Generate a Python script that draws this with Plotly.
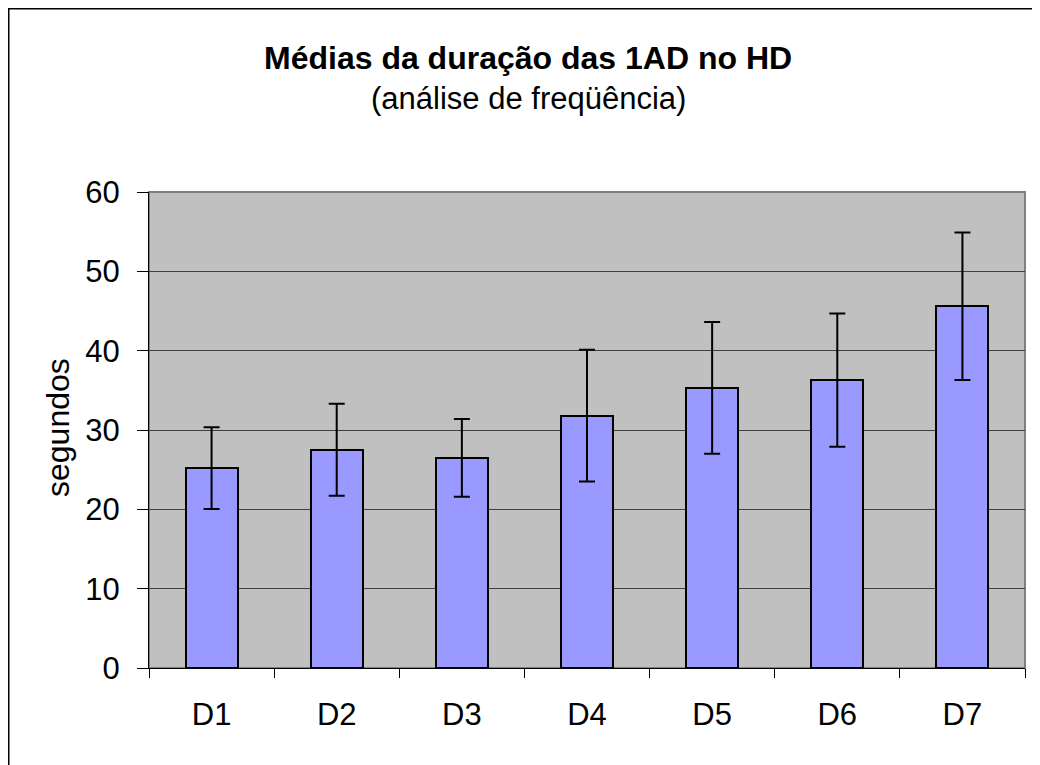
import plotly.graph_objects as go

categories = ["D1", "D2", "D3", "D4", "D5", "D6", "D7"]
means = [25.2, 27.5, 26.5, 31.8, 35.3, 36.3, 45.6]
errors = [5.15, 5.8, 4.9, 8.3, 8.3, 8.4, 9.3]
y_ticks = [0, 10, 20, 30, 40, 50, 60]

title_text = "Médias da duração das 1AD no HD"
subtitle_text = "(análise de freqüência)"
y_title = "segundos"

FONT = "Arial, Liberation Sans, sans-serif"

# the page body adds an 8px margin, so figure coords = page coords - 8
OFF = 8
W, H = 1040 - OFF, 765 - OFF
L, R, T, B = 149 - OFF, 1025 - OFF, 192 - OFF, 668 - OFF
pw, ph = R - L, B - T


def px_x(x):
    return (x - OFF - L) / pw


def px_y(y):
    return (B - (y - OFF)) / ph


fig = go.Figure()
fig.add_trace(go.Bar(
    x=categories, y=means, width=0.415,
    marker=dict(color="#9999FF", line=dict(color="black", width=2)),
    error_y=dict(type="data", array=errors, visible=True,
                 color="black", thickness=2, width=8),
    showlegend=False,
))

fig.update_layout(
    width=W, height=H,
    margin=dict(l=L, r=W - R, t=T, b=H - B, pad=0),
    paper_bgcolor="white",
    plot_bgcolor="#C0C0C0",
    font=dict(family=FONT, color="black"),
    bargap=0,
    xaxis=dict(
        type="category", range=[-0.5, 6.5],
        showgrid=False, showline=True, linecolor="black", linewidth=1,
        ticks="outside", ticklen=9, tickcolor="black", tickwidth=1,
        tickson="boundaries",
        tickfont=dict(size=31, family=FONT, color="black"),
        ticklabelstandoff=19,
    ),
    yaxis=dict(
        range=[0, 60], tickvals=y_ticks,
        showgrid=True, gridcolor="#404040", gridwidth=1,
        showline=True, linecolor="black", linewidth=1,
        ticks="outside", ticklen=11, tickcolor="black", tickwidth=1,
        tickfont=dict(size=31, family=FONT, color="black"),
        ticklabelstandoff=11,
        zeroline=False,
    ),
    shapes=[
        # plot area border (top/right gray)
        dict(type="rect", xref="paper", yref="paper", x0=0, x1=1, y0=0, y1=1,
             line=dict(color="#808080", width=2), layer="below"),
        # outer chart border (right/bottom edges fall outside the view)
        dict(type="rect", xref="paper", yref="paper",
             x0=px_x(8.75), x1=px_x(1080), y0=px_y(800), y1=px_y(8.75),
             line=dict(color="black", width=1.5)),
    ],
    annotations=[
        dict(text="<b>" + title_text + "</b>", xref="paper", yref="paper",
             x=px_x(528), y=px_y(58), xanchor="center", yanchor="middle",
             showarrow=False, font=dict(size=32, family=FONT, color="black")),
        dict(text=subtitle_text, xref="paper", yref="paper",
             x=px_x(528), y=px_y(98), xanchor="center", yanchor="middle",
             showarrow=False, font=dict(size=31, family=FONT, color="black")),
        dict(text=y_title, xref="paper", yref="paper",
             x=px_x(58), y=px_y(428), xanchor="center", yanchor="middle",
             textangle=-90, showarrow=False,
             font=dict(size=32, family=FONT, color="black")),
    ],
)

fig.write_html("out.html")
